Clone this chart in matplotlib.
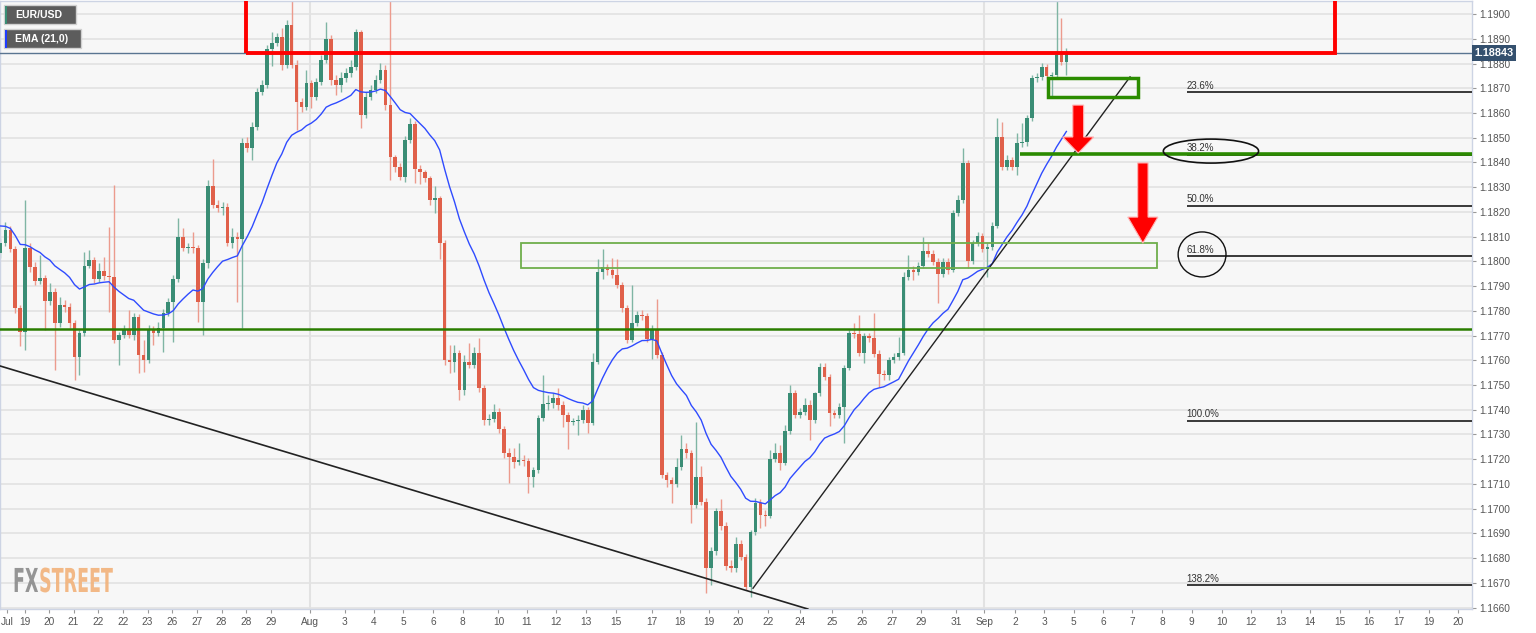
import numpy as np
import matplotlib
matplotlib.use("Agg")
import matplotlib.pyplot as plt
from matplotlib.patches import Rectangle, Polygon, Ellipse, PathPatch
from matplotlib.textpath import TextPath
from matplotlib.font_manager import FontProperties
from matplotlib.transforms import Affine2D, blended_transform_factory

# EUR/USD 4h candles, oldest first; each open is the previous close
first_open = 1.18034
closes = [
    1.18074, 1.18127, 1.18050, 1.17811, 1.17714, 1.18054, 1.17977, 1.17920, 1.17932, 1.17840,
    1.17876, 1.17750, 1.17823, 1.17815, 1.17750, 1.17613, 1.17710, 1.17981, 1.18005, 1.17928,
    1.17961, 1.17941, 1.17937, 1.17682, 1.17702, 1.17722, 1.17702, 1.17775, 1.17621, 1.17601,
    1.17722, 1.17710, 1.17730, 1.17791, 1.17835, 1.17928, 1.18098, 1.18054, 1.18058, 1.18054,
    1.17835, 1.17993, 1.18305, 1.18228, 1.18216, 1.18220, 1.18074, 1.18098, 1.18090, 1.18479,
    1.18458, 1.18543, 1.18685, 1.18713, 1.18859, 1.18883, 1.18907, 1.18794, 1.18956, 1.18794,
    1.18644, 1.18624, 1.18721, 1.18665, 1.18725, 1.18814, 1.18899, 1.18733, 1.18713, 1.18741,
    1.18762, 1.18786, 1.18928, 1.18592, 1.18665, 1.18693, 1.18733, 1.18774, 1.18632, 1.18422,
    1.18382, 1.18341, 1.18491, 1.18555, 1.18373, 1.18361, 1.18337, 1.18248, 1.18256, 1.18074,
    1.17601, 1.17593, 1.17629, 1.17480, 1.17593, 1.17581, 1.17629, 1.17488, 1.17358, 1.17362,
    1.17391, 1.17322, 1.17225, 1.17208, 1.17188, 1.17196, 1.17192, 1.17128, 1.17156, 1.17366,
    1.17423, 1.17427, 1.17447, 1.17419, 1.17378, 1.17350, 1.17354, 1.17358, 1.17399, 1.17346,
    1.17593, 1.17957, 1.17977, 1.17965, 1.17945, 1.17904, 1.17811, 1.17682, 1.17750, 1.17783,
    1.17779, 1.17686, 1.17726, 1.17621, 1.17136, 1.17115, 1.17099, 1.17168, 1.17241, 1.17225,
    1.17014, 1.17128, 1.17026, 1.16759, 1.16828, 1.16990, 1.16929, 1.16768, 1.16759, 1.16856,
    1.16804, 1.16683, 1.16905, 1.17022, 1.16974, 1.16970, 1.17200, 1.17225, 1.17184, 1.17314,
    1.17467, 1.17378, 1.17391, 1.17419, 1.17358, 1.17467, 1.17572, 1.17532, 1.17386, 1.17378,
    1.17411, 1.17568, 1.17710, 1.17706, 1.17629, 1.17698, 1.17690, 1.17625, 1.17544, 1.17540,
    1.17601, 1.17613, 1.17629, 1.17937, 1.17965, 1.17957, 1.17981, 1.18042, 1.18030, 1.17997,
    1.17949, 1.17997, 1.17965, 1.18195, 1.18248, 1.18398, 1.18001, 1.18074, 1.18102, 1.18050,
    1.18058, 1.18143, 1.18503, 1.18382, 1.18410, 1.18382, 1.18479, 1.18483, 1.18580, 1.18741,
    1.18746, 1.18786, 1.18750, 1.18754, 1.18835, 1.18806, 1.18843,
]
highs = [
    1.18094, 1.18159, 1.18143, 1.18062, 1.17823, 1.18248, 1.18074, 1.17997, 1.18026, 1.17945,
    1.17912, 1.17892, 1.17856, 1.17844, 1.17831, 1.17763, 1.17722, 1.18038, 1.18046, 1.18017,
    1.17993, 1.18017, 1.18139, 1.18309, 1.17714, 1.17742, 1.17803, 1.17791, 1.17787, 1.17682,
    1.17742, 1.17738, 1.17754, 1.17807, 1.17852, 1.17945, 1.18175, 1.18135, 1.18074, 1.18119,
    1.18066, 1.18009, 1.18329, 1.18414, 1.18248, 1.18240, 1.18236, 1.18135, 1.18119, 1.18499,
    1.18503, 1.18563, 1.18701, 1.18733, 1.18875, 1.18928, 1.18923, 1.18944, 1.18976, 1.19090,
    1.18814, 1.18661, 1.18774, 1.18733, 1.18741, 1.18835, 1.18968, 1.18915, 1.18754, 1.18766,
    1.18782, 1.18814, 1.18940, 1.18936, 1.18685, 1.18713, 1.18754, 1.18802, 1.18794, 1.19064,
    1.18430, 1.18398, 1.18507, 1.18580, 1.18568, 1.18390, 1.18369, 1.18345, 1.18305, 1.18264,
    1.18086, 1.17662, 1.17662, 1.17641, 1.17621, 1.17670, 1.17653, 1.17690, 1.17500, 1.17382,
    1.17423, 1.17407, 1.17334, 1.17245, 1.17245, 1.17265, 1.17217, 1.17204, 1.17168, 1.17378,
    1.17540, 1.17459, 1.17467, 1.17488, 1.17435, 1.17391, 1.17366, 1.17378, 1.17419, 1.17411,
    1.17629, 1.18009, 1.18050, 1.17989, 1.18013, 1.18009, 1.17916, 1.17823, 1.17904, 1.17799,
    1.17803, 1.17791, 1.17742, 1.17848, 1.17633, 1.17148, 1.17128, 1.17204, 1.17297, 1.17265,
    1.17237, 1.17350, 1.17172, 1.17043, 1.16844, 1.17002, 1.17039, 1.16945, 1.16792, 1.16885,
    1.16872, 1.16816, 1.16913, 1.17043, 1.17039, 1.16994, 1.17237, 1.17265, 1.17257, 1.17338,
    1.17500, 1.17480, 1.17407, 1.17447, 1.17439, 1.17472, 1.17589, 1.17589, 1.17544, 1.17399,
    1.17427, 1.17581, 1.17722, 1.17750, 1.17783, 1.17710, 1.17710, 1.17791, 1.17641, 1.17560,
    1.17613, 1.17629, 1.17694, 1.17957, 1.18026, 1.17981, 1.17997, 1.18098, 1.18074, 1.18046,
    1.18013, 1.18013, 1.18013, 1.18208, 1.18268, 1.18458, 1.18410, 1.18086, 1.18119, 1.18115,
    1.18074, 1.18159, 1.18580, 1.18563, 1.18430, 1.18422, 1.18519, 1.18559, 1.18592, 1.18754,
    1.18762, 1.18802, 1.18798, 1.18766, 1.19096, 1.18984, 1.18863,
]
lows = [
    1.18013, 1.18062, 1.18038, 1.17791, 1.17658, 1.17641, 1.17957, 1.17904, 1.17908, 1.17722,
    1.17823, 1.17560, 1.17734, 1.17795, 1.17730, 1.17520, 1.17540, 1.17698, 1.17973, 1.17912,
    1.17916, 1.17924, 1.17795, 1.17670, 1.17581, 1.17690, 1.17690, 1.17682, 1.17548, 1.17552,
    1.17589, 1.17662, 1.17698, 1.17633, 1.17779, 1.17674, 1.17916, 1.18042, 1.18034, 1.18034,
    1.17754, 1.17702, 1.17973, 1.18216, 1.18200, 1.18187, 1.18062, 1.18054, 1.17835, 1.17730,
    1.18442, 1.18410, 1.18531, 1.18673, 1.18701, 1.18790, 1.18871, 1.18774, 1.18782, 1.18782,
    1.18531, 1.18604, 1.18612, 1.18620, 1.18653, 1.18713, 1.18802, 1.18713, 1.18673, 1.18685,
    1.18725, 1.18746, 1.18774, 1.18539, 1.18580, 1.18653, 1.18681, 1.18721, 1.18612, 1.18329,
    1.18361, 1.18329, 1.18321, 1.18479, 1.18317, 1.18313, 1.18321, 1.18228, 1.18195, 1.18009,
    1.17581, 1.17548, 1.17552, 1.17439, 1.17459, 1.17568, 1.17568, 1.17472, 1.17338, 1.17338,
    1.17350, 1.17306, 1.17204, 1.17103, 1.17164, 1.17176, 1.17172, 1.17063, 1.17087, 1.17144,
    1.17354, 1.17399, 1.17407, 1.17399, 1.17330, 1.17241, 1.17338, 1.17297, 1.17346, 1.17306,
    1.17338, 1.17585, 1.17928, 1.17945, 1.17932, 1.17892, 1.17795, 1.17670, 1.17674, 1.17738,
    1.17763, 1.17674, 1.17605, 1.17609, 1.17124, 1.17087, 1.17022, 1.17087, 1.17156, 1.17204,
    1.16941, 1.17002, 1.17014, 1.16658, 1.16691, 1.16812, 1.16913, 1.16751, 1.16743, 1.16743,
    1.16792, 1.16670, 1.16642, 1.16893, 1.16921, 1.16929, 1.16962, 1.17188, 1.17156, 1.17176,
    1.17301, 1.17366, 1.17366, 1.17378, 1.17277, 1.17346, 1.17455, 1.17520, 1.17334, 1.17366,
    1.17366, 1.17265, 1.17560, 1.17690, 1.17617, 1.17589, 1.17674, 1.17613, 1.17492, 1.17520,
    1.17520, 1.17589, 1.17601, 1.17621, 1.17924, 1.17924, 1.17945, 1.17973, 1.18017, 1.17985,
    1.17831, 1.17937, 1.17949, 1.17957, 1.18183, 1.18236, 1.17973, 1.17989, 1.18062, 1.18038,
    1.17937, 1.18046, 1.18135, 1.18369, 1.18369, 1.18369, 1.18349, 1.18462, 1.18466, 1.18568,
    1.18725, 1.18733, 1.18737, 1.18665, 1.18741, 1.18794, 1.18754,
]

ema_seed = 1.18150
ema_period = 21
last_price = 1.18843

# bottom axis labels and the candle slot they sit under
date_slots = [1.3, 4.9, 9.9, 14.8, 19.8, 24.8, 29.8, 34.8, 39.8, 44.8, 49.75, 54.75,
              62.7, 69.75, 75.7, 81.6, 87.7, 93.7, 100.9, 106.6, 112.6, 118.6, 124.7,
              131.95, 137.7, 143.6, 149.5, 155.5, 162.0, 168.55, 174.6, 180.6, 186.5,
              193.6, 199.35, 205.6, 211.5, 217.5, 223.5, 229.4, 235.4, 241.4, 247.5,
              253.45, 259.4, 265.4, 271.4, 277.4, 283.4, 289.4, 295.4]
date_labels = ["Jul", "19", "20", "21", "22", "22", "23", "26", "27", "28", "28", "29",
               "Aug", "3", "4", "5", "6", "8", "10", "11", "12", "13", "15",
               "17", "18", "19", "20", "22", "24", "25", "26", "27", "29",
               "31", "Sep", "2", "3", "5", "6", "7", "8", "9", "10",
               "12", "13", "14", "15", "16", "17", "19", "20"]
month_slots = [62.7, 199.35]

price_ticks = np.round(np.arange(1.1660, 1.19001, 0.0010), 4)

fib_high = 1.19096
fib_low = 1.17355
fib_levels = [23.6, 38.2, 50.0, 61.8, 100.0, 138.2]

support_level = 1.17725
fib382_level = 1.18434

plt.rcParams['font.family'] = ['Liberation Sans', 'DejaVu Sans']

W, H = 1536, 633
fig = plt.figure(figsize=(W / 100, H / 100), dpi=100)
fig.patch.set_facecolor('white')
ax = fig.add_axes([0, 24 / H, 1472 / W, 608 / H])
ax.set_facecolor('#f7f7f7')

c = np.array(closes)
h = np.array(highs)
l = np.array(lows)
o = np.r_[first_open, c[:-1]]
h = np.maximum(h, np.maximum(o, c))
l = np.minimum(l, np.minimum(o, c))
x = np.arange(len(c))
up = c >= o

GREEN, RED = '#3a8d75', '#e0604a'
GREEN_W, RED_W = '#7fb5a4', '#ec9b8d'

ax.vlines(x, l, h, colors=np.where(up, GREEN_W, RED_W), lw=1, zorder=2)
body_lo = np.minimum(o, c)
body_h = np.maximum(np.abs(c - o), 0.00002)
ax.bar(x, body_h, bottom=body_lo, width=0.74, color=np.where(up, GREEN, RED),
       linewidth=0, zorder=3)

# 21 period EMA
alpha = 2 / (ema_period + 1)
ema = []
prev = ema_seed
for v in c:
    prev = prev + alpha * (v - prev)
    ema.append(prev)
ax.plot(x, ema, color='#2f4bff', lw=1.0, zorder=4)

# grid
ax.set_yticks(price_ticks)
ax.grid(axis='y', color='#e2e2e2', lw=1.2, zorder=0)
for m in month_slots:
    ax.axvline(m, color='#e2e2e2', lw=1.5, zorder=0)

xmax = 298.2
ax.set_xlim(-0.1, xmax)
ax.set_ylim(1.16594, 1.19053)

# support line and trend lines
ax.axhline(support_level, color='#2a7d00', lw=1.8, zorder=5)
ax.plot([-0.1, 163.6], [1.17577, 1.16594], color='#222222', lw=1.2, zorder=5)
ax.plot([152.5, 228.9], [1.16678, 1.18746], color='#222222', lw=1.0, zorder=5)

# fibonacci levels
for lvl in fib_levels:
    p = fib_high - lvl / 100 * (fib_high - fib_low)
    ax.hlines(p, 240.4, xmax, color='#2a2a2a', lw=1.3, zorder=5)
    ax.annotate(f'{lvl:.1f}%', (240.4, p), xytext=(0, 1), textcoords='offset points',
                ha='left', va='bottom', fontsize=7, color='#333333', zorder=6)
ax.hlines(fib382_level, 206.6, xmax, color='#2b8a00', lw=2.6, zorder=6)

# zones
ax.add_patch(Rectangle((49.75, 1.18841), 270.4 - 49.75, 0.01, fill=False,
                       ec='#ff0000', lw=2.8, zorder=7))
ax.add_patch(Rectangle((212.3, 1.18665), 18.2, 0.00077, fill=False,
                       ec='#2b8c00', lw=2.5, zorder=7))
ax.add_patch(Rectangle((105.5, 1.17973), 128.9, 0.00101, fill=False,
                       ec='#6fae4c', lw=1.3, zorder=7))

# circled levels
ax.add_patch(Ellipse((245.3, 1.18446), 19.3, 0.00097, fill=False, ec='#111111',
                     lw=1.2, zorder=7))
ax.add_patch(Ellipse((243.5, 1.18028), 9.7, 0.00182, fill=False, ec='#111111',
                     lw=1.0, zorder=7))


def down_arrow(xc, top, neck, tip, shaft_w, head_w):
    pts = [(xc - shaft_w / 2, top), (xc + shaft_w / 2, top), (xc + shaft_w / 2, neck),
           (xc + head_w / 2, neck), (xc, tip), (xc - head_w / 2, neck),
           (xc - shaft_w / 2, neck)]
    return Polygon(pts, closed=True, fc='#ff0000', ec='#ffb4b4', lw=0.8, zorder=8)


ax.add_patch(down_arrow(218.4, 1.18632, 1.18503, 1.18438, 2.2, 6.3))
ax.add_patch(down_arrow(231.5, 1.18398, 1.18179, 1.18074, 2.1, 6.1))

# last price line and tag
ax.axhline(last_price, color='#5a7591', lw=1.0, zorder=6)
tr = blended_transform_factory(ax.transAxes, ax.transData)
ax.text(1.0018, last_price, f'{last_price:.5f}', transform=tr, ha='left', va='center',
        fontsize=7.8, fontweight='bold', color='white', zorder=10,
        bbox=dict(boxstyle='square,pad=0.25', fc='#34506e', ec='none'))

# axes styling
ax.yaxis.tick_right()
ax.set_yticklabels([f'{t:.4f}' for t in price_ticks])
ax.set_xticks(date_slots)
ax.set_xticklabels(date_labels)
ax.tick_params(axis='y', labelsize=7.3, colors='#999999', labelcolor='#555555',
               length=3, pad=2)
ax.tick_params(axis='x', labelsize=7.3, colors='#999999', labelcolor='#555555',
               length=3, pad=3)
for s in ax.spines.values():
    s.set_color('#cdd4e4')
    s.set_linewidth(1.0)

# legend chips, top left (pixel coordinates)
def chip(x0, top, w, hgt, stripe, label):
    y0 = H - top - hgt
    fig.add_artist(Rectangle((x0, y0), w, hgt, transform=None, fc='#5c5c5c',
                             ec='#d0d0d0', lw=1, zorder=20))
    fig.add_artist(Rectangle((x0 + 0.5, y0 + 0.5), 2.5, hgt - 1, transform=None,
                             fc=stripe, ec='none', zorder=21))
    fig.text((x0 + 11) / W, (y0 + hgt / 2) / H, label, ha='left', va='center',
             fontsize=7.6, fontweight='bold', color='white', zorder=22)


chip(4, 5, 72, 19, GREEN, 'EUR/USD')
chip(4, 29, 77, 19, '#1f3cff', 'EMA (21,0)')

# watermark
fp = FontProperties(family='DejaVu Sans', weight='bold')
xpos = 13
for part, col in [('FX', '#8a8a8a'), ('STREET', '#f2b27a')]:
    tp = TextPath((0, 0), part, size=33, prop=fp)
    trans = Affine2D().scale(0.53, 1.0).translate(xpos, H - 592)
    fig.add_artist(PathPatch(tp, transform=trans, fc=col, ec='none', alpha=0.9,
                             zorder=15))
    ext = tp.get_extents()
    xpos += ext.x1 * 0.53 + 1

fig.savefig('out.png', dpi=100)
